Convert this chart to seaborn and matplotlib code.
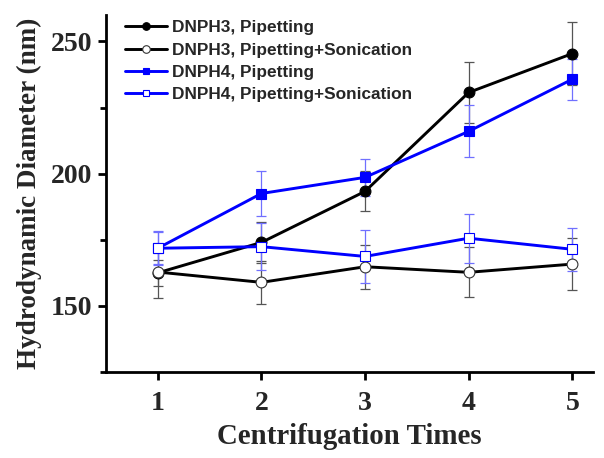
import matplotlib
matplotlib.use("Agg")
import matplotlib.pyplot as plt
from matplotlib.ticker import MultipleLocator
import seaborn as sns
import pandas as pd

sns.set_theme(style="ticks")
plt.rcParams['font.family'] = ['Liberation Sans', 'DejaVu Sans']

times = [1, 2, 3, 4, 5]
series_names = ["DNPH3, Pipetting", "DNPH3, Pipetting+Sonication",
                "DNPH4, Pipetting", "DNPH4, Pipetting+Sonication"]
dnph3_pip = [162.5, 174.0, 193.3, 230.7, 245.4]
dnph3_pip_err = [5.0, 7.6, 7.6, 11.5, 12.0]
dnph3_son = [162.8, 158.9, 164.8, 162.7, 165.8]
dnph3_son_err = [10.0, 8.0, 8.4, 9.4, 9.7]
dnph4_pip = [171.8, 192.5, 198.6, 216.0, 235.7]
dnph4_pip_err = [6.0, 8.6, 7.0, 9.8, 7.8]
dnph4_son = [171.8, 172.4, 168.7, 175.6, 171.4]
dnph4_son_err = [6.4, 9.0, 10.0, 9.2, 8.2]

values = [dnph3_pip, dnph3_son, dnph4_pip, dnph4_son]
errors = [dnph3_pip_err, dnph3_son_err, dnph4_pip_err, dnph4_son_err]
colors = ["#000000", "#000000", "#0000ff", "#0000ff"]
err_colors = ["#555555", "#555555", "#7070ff", "#7070ff"]
markers = ["o", "o", "s", "s"]
filled = [True, False, True, False]
msizes = [7.8, 7.8, 7.0, 7.0]

serif = ['Liberation Serif', 'DejaVu Serif']

fig = plt.figure(figsize=(6.04, 4.58), dpi=100)
ax = fig.add_axes([106/604, 1 - 372/458, (593 - 106)/604, (372 - 15)/458])

for name, v, e, c, ec, m, f, ms in zip(series_names, values, errors, colors,
                                       err_colors, markers, filled, msizes):
    ax.errorbar(times, v, yerr=e, fmt='none', ecolor=ec, elinewidth=0.9,
                capsize=3.5, capthick=0.9, zorder=1)
    df = pd.DataFrame({"x": times, "y": v})
    sns.lineplot(data=df, x="x", y="y", ax=ax, color=c, linewidth=2.1,
                 marker=m, markersize=ms,
                 markerfacecolor=(c if f else "white"),
                 markeredgecolor=c if f else ("#333333" if c == "#000000" else c),
                 markeredgewidth=0.8, label=name, zorder=3)

ax.set_xlim(0.5, 5.2)
ax.set_ylim(125, 260)
ax.set_xticks(times)
ax.yaxis.set_major_locator(MultipleLocator(50))
ax.yaxis.set_minor_locator(MultipleLocator(25))
ax.set_yticks([150, 200, 250])

for s in ["top", "right"]:
    ax.spines[s].set_visible(False)
for s in ["left", "bottom"]:
    ax.spines[s].set_linewidth(2.0)
    ax.spines[s].set_color("black")

ax.tick_params(axis="both", which="major", direction="out", length=6, width=2,
               color="black", labelsize=20)
ax.tick_params(axis="x", which="major", pad=8)
ax.tick_params(axis="y", which="major", pad=4)
ax.tick_params(axis="y", which="minor", direction="out", length=4, width=2,
               color="black")
for lab in ax.get_xticklabels() + ax.get_yticklabels():
    lab.set_fontfamily(serif)
    lab.set_fontweight('bold')

ax.set_xlabel("Centrifugation Times", fontsize=20.8, fontweight='bold',
              family=serif, labelpad=5)
ax.set_ylabel("Hydrodynamic Diameter (nm)", fontsize=19.5, fontweight='bold',
              family=serif, labelpad=6)

leg = ax.legend(loc="upper left", bbox_to_anchor=(0.035, 0.99), frameon=False,
                borderaxespad=0, borderpad=0.1, handlelength=2.45,
                handletextpad=0.3, labelspacing=0.42, markerscale=0.7,
                prop={'family': 'Liberation Sans', 'weight': 'bold', 'size': 12.4})

fig.savefig("out.png", dpi=100, facecolor="white")
